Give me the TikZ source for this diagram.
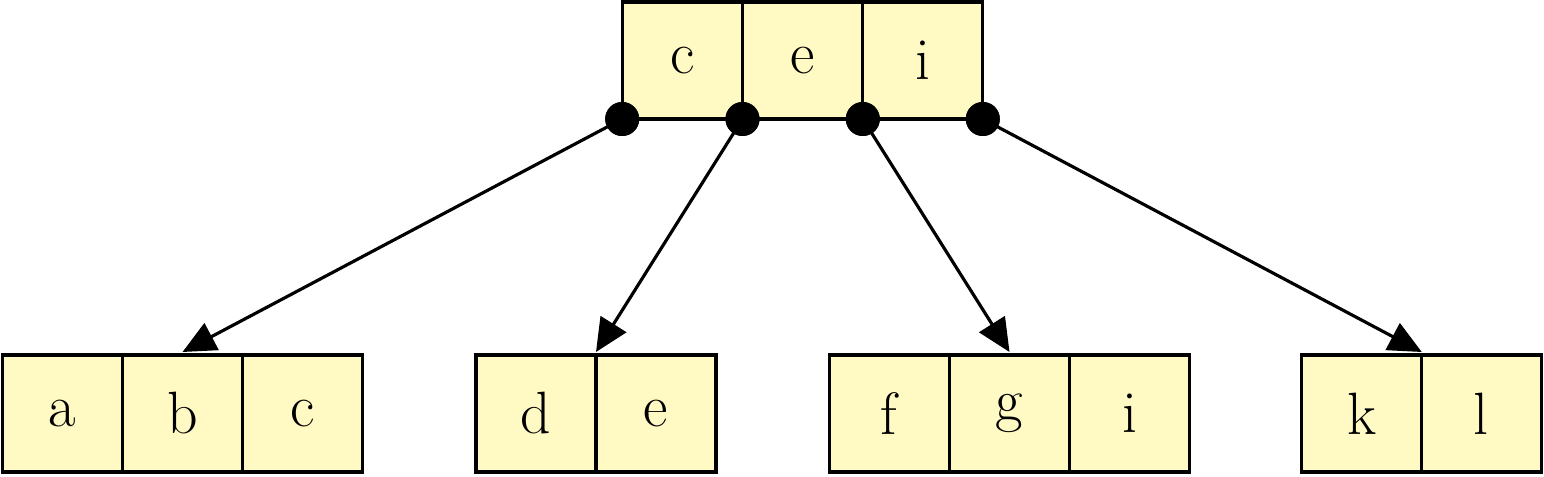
\documentclass[tikz,border=0pt]{standalone}
\usetikzlibrary{arrows.meta}
\definecolor{cellfill}{RGB}{255,249,196}
\tikzset{
  cell/.style={draw=black, fill=cellfill, line width=0.9pt, minimum width=1.2cm, minimum height=1.17cm, inner sep=0pt, outer sep=0pt, font=\fontsize{17}{20}\selectfont},
  dot/.style={circle, fill=black, minimum size=0.34cm, inner sep=0pt},
  link/.style={line width=0.9pt, -{Triangle[length=0.33cm, width=0.3cm]}}
}
\begin{document}
\begin{tikzpicture}
\useasboundingbox (0,0) rectangle (15.44,4.76);
% top node
\node[cell] (t1) at (6.822,4.155) {c};
\node[cell] (t2) at (8.025,4.155) {e};
\node[cell] (t3) at (9.228,4.155) {i};
% bottom nodes
\node[cell] (a1) at (0.622,0.625) {a};
\node[cell] (a2) at (1.825,0.625) {b};
\node[cell] (a3) at (3.028,0.625) {c};
\node[cell] (d1) at (5.36,0.625) {d};
\node[cell] (d2) at (6.56,0.625) {e};
\node[cell] (f1) at (8.892,0.625) {f};
\node[cell] (f2) at (10.095,0.625) {g};
\node[cell] (f3) at (11.298,0.625) {i};
\node[cell] (k1) at (13.6175,0.625) {k};
\node[cell] (k2) at (14.8125,0.625) {l};
% pointer dots
\node[dot] (p0) at (t1.south west) {};
\node[dot] (p1) at (t2.south west) {};
\node[dot] (p2) at (t3.south west) {};
\node[dot] (p3) at (t3.south east) {};
% links
\draw[link] (p0.center) -- ([yshift=0.03cm]a2.north);
\draw[link] (p1.center) -- ([yshift=0.03cm]d1.north east);
\draw[link] (p2.center) -- ([yshift=0.03cm]f2.north);
\draw[link] (p3.center) -- ([yshift=0.03cm]k1.north east);
% redraw dots on top
\fill (p0.center) circle (0.17cm);
\fill (p1.center) circle (0.17cm);
\fill (p2.center) circle (0.17cm);
\fill (p3.center) circle (0.17cm);
\end{tikzpicture}
\end{document}
